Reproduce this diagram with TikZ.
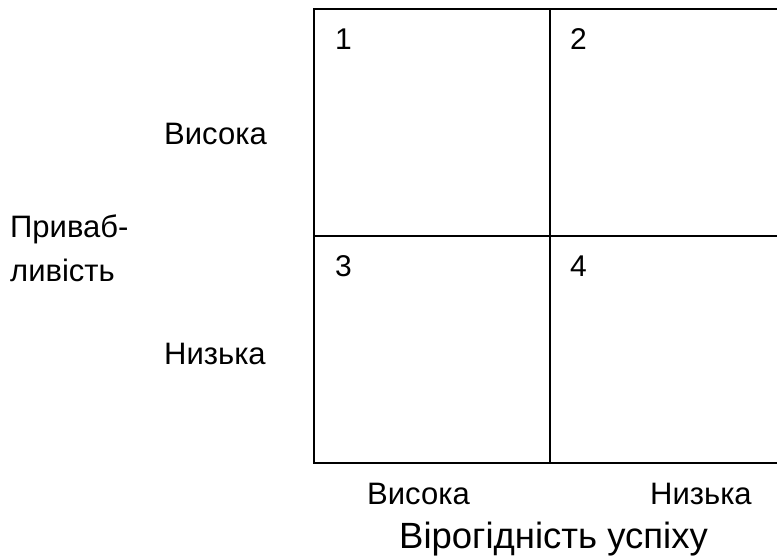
\documentclass[tikz,border=0pt]{standalone}
\usepackage{fontspec}
\setmainfont{Liberation Sans}
\begin{document}
\begin{tikzpicture}[x=1pt,y=-1pt,
  lbl/.style={anchor=base west,inner sep=0pt,font=\fontsize{31}{36}\selectfont},
  numtext/.style={anchor=base west,inner sep=0pt,font=\fontsize{30}{36}\selectfont},
  captext/.style={anchor=base west,inner sep=0pt,font=\fontsize{36.5}{42}\selectfont},
  grid/.style={line width=1.5pt,black}]
\useasboundingbox (0,0) rectangle (777,555);
\coordinate (tl) at (314,9);
\coordinate (tr) at (779,9);
\coordinate (bl) at (314,463);
\coordinate (br) at (779,463);
\coordinate (mt) at (550,9);
\coordinate (mb) at (550,463);
\coordinate (ml) at (314,236);
\coordinate (mr) at (779,236);
\draw[grid] (tr) -- (tl) -- (bl) -- (br);
\draw[grid] (mt) -- (mb);
\draw[grid] (ml) -- (mr);
\node[numtext] (n1) at (335,49) {1};
\node[numtext] (n2) at (570,49) {2};
\node[numtext] (n3) at (335,276) {3};
\node[numtext] (n4) at (570,276) {4};
\node[lbl] (yh) at (164,144) {Висока};
\node[lbl] (yl) at (164,364) {Низька};
\node[lbl] (ya1) at (10,237) {Приваб-};
\node[lbl] (ya2) at (10,281) {ливість};
\node[lbl] (xh) at (367,504) {Висока};
\node[lbl] (xl) at (650,504) {Низька};
\node[captext] (xa) at (399,548) {Вірогідність успіху};
\end{tikzpicture}
\end{document}
